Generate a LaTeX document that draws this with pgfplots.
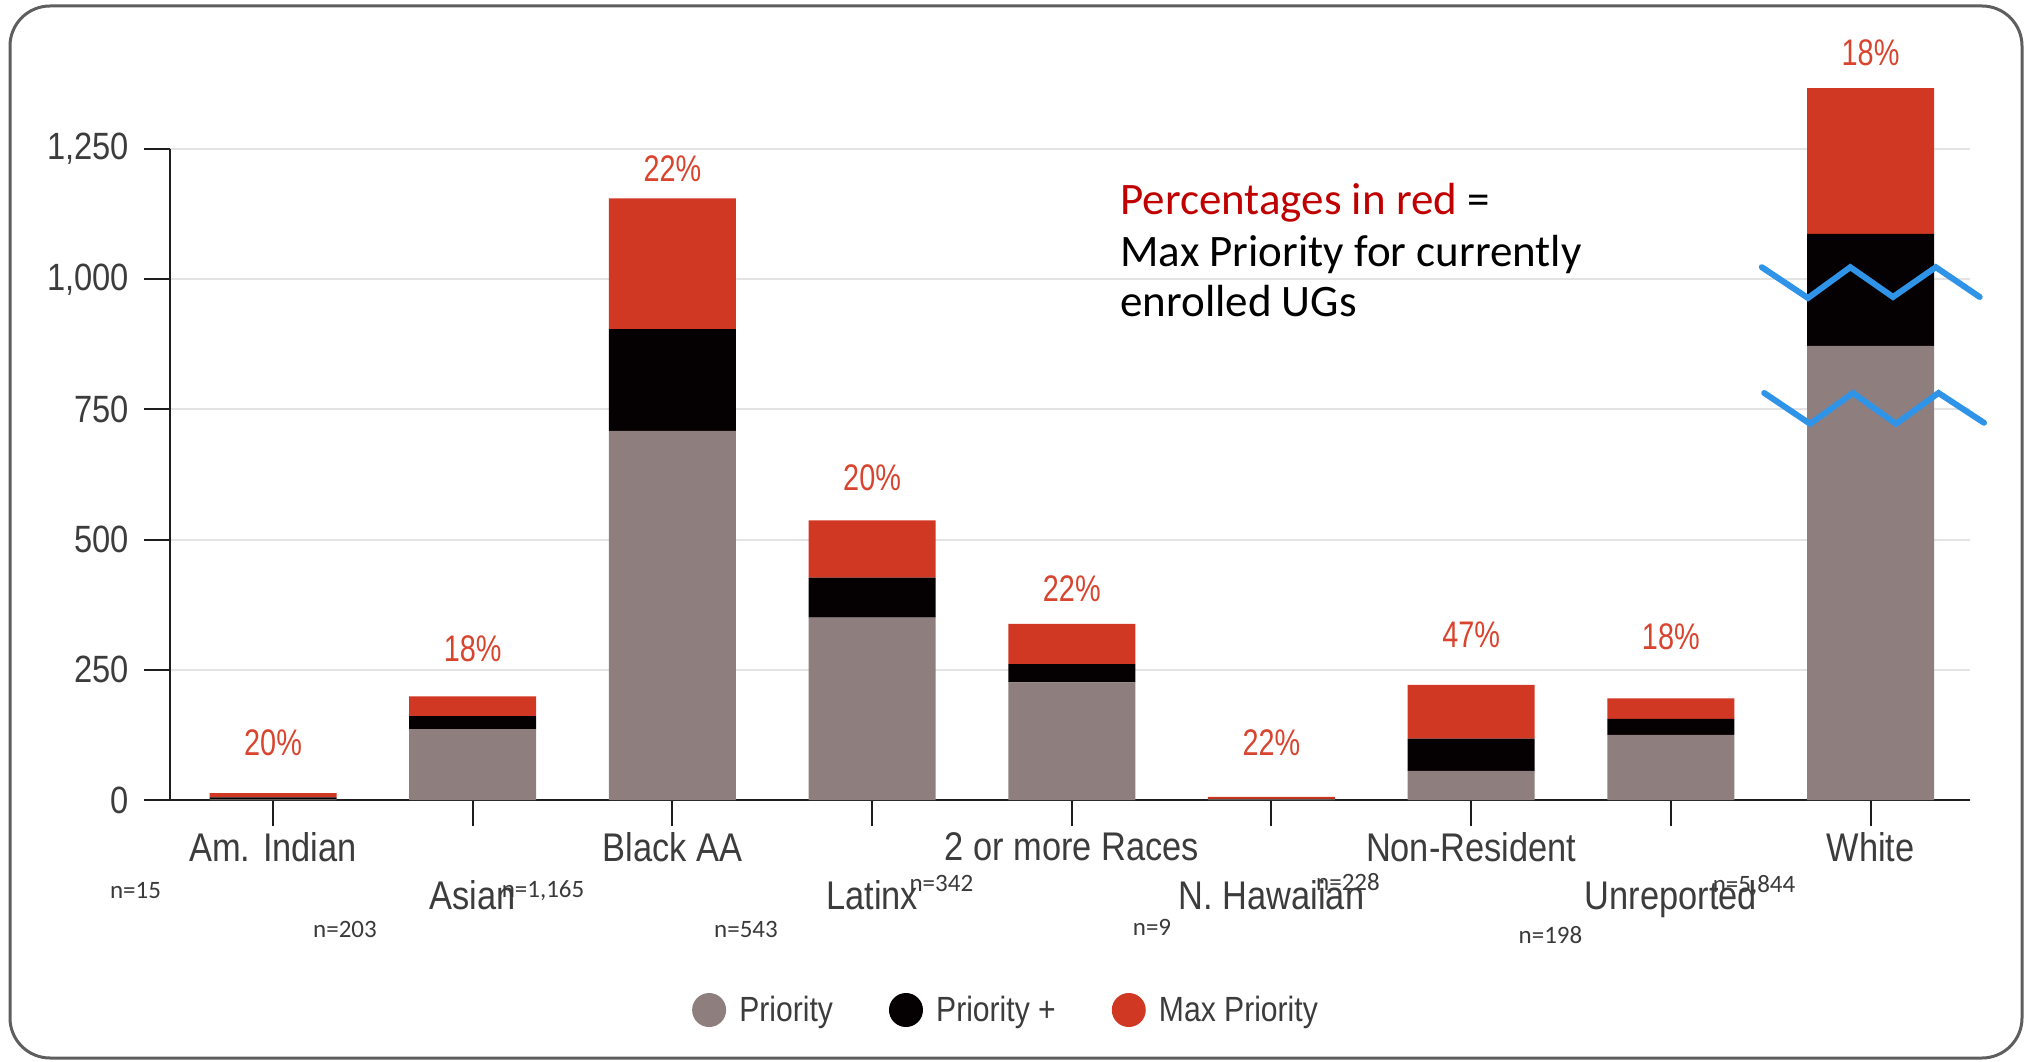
\documentclass[border=0pt]{standalone}
\usepackage{fontspec}
\usepackage{pgfplots}
\usepackage{pgfplotstable}
\pgfplotsset{compat=1.18}
\setmainfont{Carlito}
\newfontfamily\cond{Liberation Sans}[FakeStretch=0.86]
\newfontfamily\pcond{Liberation Sans}[FakeStretch=0.78]
\newfontfamily\carl{Carlito}

\definecolor{prio}{HTML}{8E7F7E}
\definecolor{plusc}{HTML}{050002}
\definecolor{maxc}{HTML}{D03823}
\definecolor{pctcol}{HTML}{D9442E}
\definecolor{zz}{HTML}{2F94E8}
\definecolor{gridcol}{HTML}{E3E3E3}
\definecolor{axcol}{HTML}{1E1E1E}
\definecolor{labcol}{HTML}{3C3C3C}
\definecolor{ncol}{HTML}{3A3A3A}
\definecolor{annred}{HTML}{C00000}
\definecolor{framegray}{HTML}{5E5E5E}

\pgfplotsset{
  dotlegend/.style={legend image code/.code={\fill[##1] (0pt,0pt) circle (8.5pt);}},
  samebox/.style={at={(85pt,130.5pt)}, anchor=south west,
    scale only axis, width=900pt, height=325.5pt,
    xmin=-0.516, xmax=8.498, ymin=0, ymax=1250, clip=false},
}

% x: category index, counts per group (White drawn as shown, axis broken)
% ly: height at which the percentage label sits
\pgfplotstableread{
x prio plus maxp ly   lab
0 1   4   8    55   20\%
1 136 25  38   234  18\%
2 709 195 251  1157 22\%
3 350 77  110  564  20\%
4 226 35  77   350  22\%
5 1   1   4    55   22\%
6 56  62  103  261  47\%
7 125 31  39   258  18\%
8 872 215 280  1380 18\%
}\data

\begin{document}
\begin{tikzpicture}[x=0.5pt,y=0.5pt]
\useasboundingbox (0,0) rectangle (2030,1061);
\draw[framegray, line width=1.5pt, rounded corners=20pt] (10,3) rectangle (2022,1055);

\begin{axis}[
  samebox,
  ybar stacked, bar width=63.5pt,
  axis lines=left,
  axis line style={-, line width=1.3pt, color=axcol},
  tick align=outside, major tick length=13pt,
  tick style={line width=1pt, color=axcol},
  ymajorgrids, major grid style={line width=1pt, color=gridcol},
  xtick={0,...,8},
  xticklabels={Am. Indian, Asian, Black AA, Latinx, 2 or more Races, N. Hawaiian, Non-Resident, Unreported, White},
  xticklabel style={font=\cond\fontsize{20}{20}\selectfont, text=labcol, anchor=north, inner sep=0pt,
    yshift={-3.25pt-mod(\ticknum,2)*23.75pt}},
  ytick={0,250,...,1250},
  yticklabel style={font=\cond\fontsize{19}{19}\selectfont, text=labcol, anchor=east, inner sep=0pt, xshift=-7.3pt},
  /pgf/number format/1000 sep={,},
  /pgf/number format/assume math mode=true,
  legend style={at={(0.465,-0.3226)}, anchor=center, draw=none, fill=none,
    legend columns=-1, font=\cond\fontsize{17.5}{17.5}\selectfont, text=labcol,
    /tikz/every even column/.append style={column sep=26pt},
    /tikz/every odd column/.append style={column sep=4.6pt}},
]
\addplot[fill=prio, draw=none, dotlegend] table[x=x, y=prio] {\data};
\addlegendentry{Priority}
\addplot[fill=plusc, draw=none, dotlegend] table[x=x, y=plus] {\data};
\addlegendentry{Priority +}
\addplot[fill=maxc, draw=none, dotlegend] table[x=x, y=maxp] {\data};
\addlegendentry{Max Priority}
\end{axis}

% share of Max Priority above each stack
\begin{axis}[samebox, hide axis]
\addplot[only marks, mark=*, mark size=0pt, draw=none, fill=none,
  nodes near coords, point meta=explicit symbolic,
  every node near coord/.append style={font=\pcond\fontsize{18.5}{18.5}\selectfont, text=pctcol,
    anchor=south, inner sep=0pt, yshift=7.75pt}]
  table[x=x, y=ly, meta=lab] {\data};
\end{axis}

% axis-break marks on the White bar
\draw[zz, line width=3pt, line cap=round] (1761.8,793.8) -- (1808,763) -- (1850.3,793.8)
  -- (1893,764) -- (1935.8,793.8) -- (1979.7,764);
\draw[zz, line width=3pt, line cap=round] (1764.2,668) -- (1810,637.2) -- (1853,668)
  -- (1896,637.2) -- (1938.5,668) -- (1984,638.2);

% group sizes
\begin{scope}[every node/.style={font=\carl\fontsize{12.5}{12.5}\selectfont, text=ncol, inner sep=0pt}]
\node at (135.5,170.4) {n=15};
\node at (345,131.5) {n=203};
\node at (543,170.2) {n=1,165};
\node at (746,131.7) {n=543};
\node at (941.4,178) {n=342};
\node at (1152,133.5) {n=9};
\node at (1348,179) {n=228};
\node at (1550.5,126) {n=198};
\node at (1754,175) {n=5,844};
\end{scope}

\begin{scope}[every node/.style={font=\carl\fontsize{22.5}{25.5}\selectfont, inner sep=0pt, anchor=base west}]
\node at (1120,846) {\textcolor{annred}{Percentages in red} =};
\node at (1120,794) {Max Priority for currently};
\node at (1120,744) {enrolled UGs};
\end{scope}
\end{tikzpicture}
\end{document}
